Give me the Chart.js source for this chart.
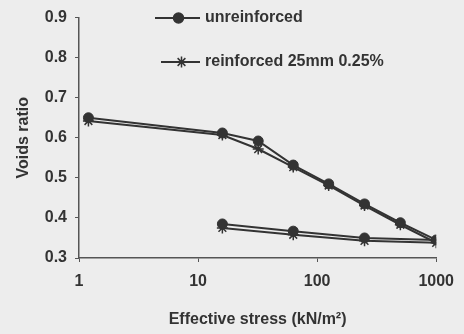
<!DOCTYPE html>
<html>
<head>
<meta charset="utf-8">
<script src="https://cdn.jsdelivr.net/npm/chart.js@4"></script>
<style>
  html, body { margin: 0; padding: 0; background: #ededed; }
  #wrap { width: 464px; height: 334px; }
</style>
</head>
<body>
<div id="wrap"><canvas id="c" width="464" height="334"></canvas></div>
<script>
// effective stress steps (loading then unloading)
const stress = [1.2, 16, 32, 63, 125, 250, 500, 1000, 250, 63, 16];
const unreinforced = [0.65, 0.612, 0.592, 0.532, 0.485, 0.435, 0.388, 0.345, 0.35, 0.367, 0.385];
const reinforced = [0.642, 0.607, 0.572, 0.527, 0.481, 0.431, 0.383, 0.338, 0.343, 0.358, 0.375];
const xTicks = [1, 10, 100, 1000];
const seriesNames = ['unreinforced', 'reinforced 25mm 0.25%'];

const ink = '#333333';
const font = { family: '"Liberation Sans", Arial, sans-serif', size: 16, weight: 'bold' };

function pts(ys) {
  return stress.map((x, i) => ({ x: x, y: ys[i] }));
}

// legend drawn inside the plot, line + marker like the original
const innerLegend = {
  id: 'innerLegend',
  afterDraw(chart) {
    const ctx = chart.ctx;
    const rows = [{ y: 18, x1: 155, x2: 200 }, { y: 62, x1: 161, x2: 200 }];
    chart.data.datasets.forEach((ds, i) => {
      const r = rows[i];
      ctx.save();
      ctx.strokeStyle = ink;
      ctx.lineWidth = 2;
      ctx.beginPath();
      ctx.moveTo(r.x1, r.y);
      ctx.lineTo(r.x2, r.y);
      ctx.stroke();
      ctx.fillStyle = ink;
      ctx.lineWidth = 1.5;
      Chart.helpers.drawPoint(ctx, { pointStyle: ds.pointStyle, radius: ds.pointRadius, rotation: 0, borderWidth: 1.5 }, (r.x1 + r.x2) / 2 + 1, r.y);
      ctx.font = 'bold 16px "Liberation Sans", Arial, sans-serif';
      ctx.textBaseline = 'middle';
      ctx.fillText(ds.label, 205, r.y);
      ctx.restore();
    });
  }
};

new Chart(document.getElementById('c'), {
  type: 'scatter',
  data: {
    datasets: [
      {
        label: seriesNames[0],
        data: pts(unreinforced),
        showLine: true,
        borderColor: ink,
        backgroundColor: ink,
        borderWidth: 2,
        pointStyle: 'circle',
        pointRadius: 5,
        pointBorderWidth: 1
      },
      {
        label: seriesNames[1],
        data: pts(reinforced),
        showLine: true,
        borderColor: ink,
        backgroundColor: ink,
        borderWidth: 2,
        pointStyle: 'star',
        pointRadius: 5.5,
        pointBorderWidth: 1.5
      }
    ]
  },
  options: {
    responsive: false,
    animation: false,
    layout: { padding: { top: 15, right: 27, left: 0, bottom: 0 } },
    plugins: {
      legend: { display: false },
      tooltip: { enabled: false }
    },
    scales: {
      x: {
        type: 'logarithmic',
        min: 1,
        max: 1000,
        afterBuildTicks(scale) {
          scale.ticks = xTicks.map(v => ({ value: v }));
        },
        afterFit(scale) { scale.height = 76; },
        ticks: {
          color: ink,
          font: font,
          padding: 10,
          maxRotation: 0,
          callback: v => String(v)
        },
        grid: { drawOnChartArea: false, tickLength: 4, color: '#555' },
        border: { color: '#555', width: 1.5 },
        title: {
          display: true,
          text: 'Effective stress (kN/m²)',
          color: ink,
          font: font,
          padding: { top: 4, bottom: 5 }
        }
      },
      y: {
        min: 0.3,
        max: 0.9,
        afterFit(scale) { scale.width = 79; },
        ticks: {
          stepSize: 0.1,
          color: ink,
          font: font,
          padding: 8,
          callback: v => v.toFixed(1)
        },
        grid: { drawOnChartArea: false, tickLength: 4, color: '#555' },
        border: { color: '#555', width: 1.5 },
        title: {
          display: true,
          text: 'Voids ratio',
          color: ink,
          font: font,
          padding: { top: 14, bottom: 4 }
        }
      }
    }
  },
  plugins: [innerLegend]
});
</script>
</body>
</html>
